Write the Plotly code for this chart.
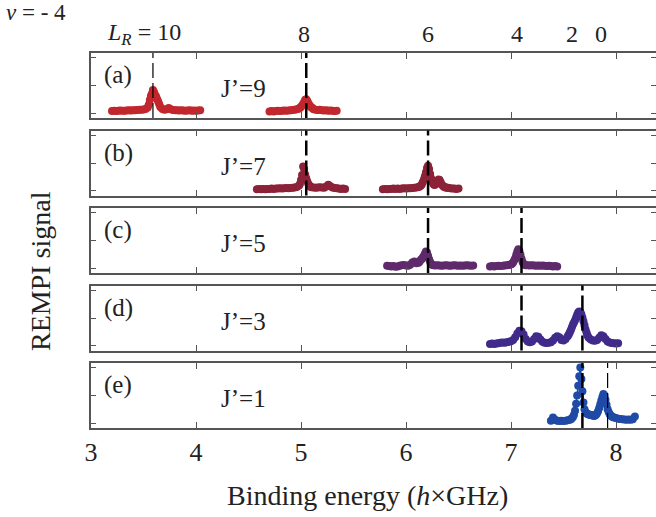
import plotly.graph_objects as go
from plotly.subplots import make_subplots

# ---------------- data ----------------
panel_labels = ["(a)", "(b)", "(c)", "(d)", "(e)"]
j_labels = ["J’=9", "J’=7", "J’=5", "J’=3", "J’=1"]
colors = ["#c1272d", "#8c2238", "#5f2a6b", "#402a8a", "#1f4aa5"]

# panel (a)
a1_x = [3.20, 3.22, 3.24, 3.26, 3.28, 3.30, 3.32, 3.34, 3.36, 3.38, 3.40, 3.42, 3.44, 3.46, 3.48, 3.50, 3.52, 3.54,
        3.55, 3.56, 3.57, 3.58, 3.59, 3.60, 3.61, 3.62, 3.63, 3.64, 3.65, 3.66,
        3.68, 3.70, 3.72, 3.74, 3.76, 3.78, 3.80, 3.82, 3.84, 3.86, 3.88, 3.90, 3.92, 3.94, 3.96, 3.98, 4.00, 4.02, 4.04]
a1_y = [0.07, 0.08, 0.07, 0.08, 0.09, 0.08, 0.08, 0.09, 0.10, 0.09, 0.10, 0.10, 0.11, 0.12, 0.12, 0.13, 0.15, 0.20,
        0.30, 0.47, 0.62, 0.70, 0.84, 0.76, 0.66, 0.60, 0.50, 0.42, 0.32, 0.22,
        0.15, 0.12, 0.14, 0.18, 0.14, 0.11, 0.10, 0.10, 0.09, 0.10, 0.09, 0.08, 0.09, 0.10, 0.08, 0.09, 0.08, 0.09, 0.10]
a2_x = [4.70, 4.72, 4.74, 4.76, 4.78, 4.80, 4.82, 4.84, 4.86, 4.88, 4.90, 4.92, 4.94, 4.96,
        4.98, 4.99, 5.00, 5.01, 5.02, 5.03, 5.04, 5.05, 5.06, 5.07, 5.08, 5.09, 5.10, 5.11, 5.12,
        5.14, 5.16, 5.18, 5.20, 5.22, 5.24, 5.26, 5.28, 5.30, 5.32, 5.34]
a2_y = [0.06, 0.07, 0.06, 0.07, 0.08, 0.07, 0.08, 0.09, 0.08, 0.09, 0.10, 0.11, 0.12, 0.14,
        0.16, 0.19, 0.22, 0.27, 0.33, 0.40, 0.48, 0.50, 0.44, 0.36, 0.29, 0.24, 0.20, 0.17, 0.14,
        0.12, 0.11, 0.12, 0.10, 0.09, 0.10, 0.08, 0.09, 0.08, 0.07, 0.08]

# panel (b)
b1_x = [4.58, 4.60, 4.62, 4.64, 4.66, 4.68, 4.70, 4.72, 4.74, 4.76, 4.78, 4.80, 4.82, 4.84, 4.86, 4.88, 4.90, 4.92, 4.94, 4.96,
        4.98, 4.99, 5.00, 5.01, 5.02, 5.03, 5.04, 5.05, 5.06, 5.07, 5.08, 5.09, 5.10,
        5.12, 5.14, 5.16, 5.18, 5.20, 5.22, 5.24, 5.26, 5.28, 5.30, 5.32, 5.34, 5.36, 5.38, 5.40, 5.42]
b1_y = [0.05, 0.06, 0.05, 0.06, 0.05, 0.06, 0.06, 0.07, 0.06, 0.07, 0.07, 0.08, 0.07, 0.08, 0.09, 0.08, 0.09, 0.10, 0.11, 0.13,
        0.17, 0.24, 0.38, 0.56, 0.87, 0.78, 0.58, 0.45, 0.33, 0.24, 0.18, 0.14, 0.12,
        0.11, 0.10, 0.11, 0.12, 0.11, 0.10, 0.15, 0.21, 0.16, 0.11, 0.09, 0.08, 0.07, 0.06, 0.07, 0.06]
b2_x = [5.78, 5.80, 5.82, 5.84, 5.86, 5.88, 5.90, 5.92, 5.94, 5.96, 5.98, 6.00, 6.02, 6.04, 6.06, 6.08, 6.10,
        6.12, 6.13, 6.14, 6.15, 6.16, 6.17, 6.18, 6.19, 6.20, 6.21, 6.22, 6.23, 6.24, 6.25, 6.26, 6.27, 6.28,
        6.29, 6.30, 6.31, 6.32, 6.33, 6.34, 6.35, 6.36, 6.37, 6.38, 6.39, 6.40,
        6.42, 6.44, 6.46, 6.48, 6.50]
b2_y = [0.05, 0.06, 0.05, 0.06, 0.06, 0.07, 0.06, 0.07, 0.06, 0.07, 0.08, 0.07, 0.08, 0.08, 0.09, 0.10, 0.11,
        0.13, 0.15, 0.17, 0.22, 0.30, 0.40, 0.52, 0.66, 0.82, 0.90, 0.78, 0.60, 0.44, 0.32, 0.24, 0.20, 0.22,
        0.28, 0.35, 0.40, 0.38, 0.30, 0.22, 0.17, 0.14, 0.12, 0.11, 0.10, 0.10,
        0.08, 0.07, 0.07, 0.06, 0.07]

# panel (c)
c1_x = [5.82, 5.84, 5.86, 5.88, 5.90, 5.92, 5.94, 5.96, 5.98, 6.00, 6.02, 6.04, 6.06, 6.08, 6.10, 6.12,
        6.13, 6.14, 6.15, 6.16, 6.17, 6.18, 6.19, 6.20, 6.21, 6.22, 6.23, 6.24, 6.25, 6.26,
        6.28, 6.30, 6.32, 6.34, 6.36, 6.38, 6.40, 6.42, 6.44, 6.46, 6.48, 6.50, 6.52, 6.54, 6.56, 6.58, 6.60, 6.62, 6.64]
c1_y = [0.08, 0.07, 0.06, 0.07, 0.05, 0.06, 0.08, 0.10, 0.11, 0.09, 0.08, 0.12, 0.20, 0.24, 0.17, 0.19,
        0.24, 0.29, 0.33, 0.38, 0.44, 0.52, 0.60, 0.56, 0.45, 0.32, 0.22, 0.15, 0.12, 0.10,
        0.09, 0.10, 0.09, 0.08, 0.09, 0.10, 0.09, 0.08, 0.09, 0.10, 0.09, 0.08, 0.09, 0.08, 0.09, 0.10, 0.09, 0.08, 0.09]
c2_x = [6.80, 6.82, 6.84, 6.86, 6.88, 6.90, 6.92, 6.94, 6.96, 6.98,
        6.99, 7.00, 7.01, 7.02, 7.03, 7.04, 7.05, 7.06, 7.07, 7.08, 7.09, 7.10, 7.11, 7.12, 7.13, 7.14,
        7.16, 7.18, 7.20, 7.22, 7.24, 7.26, 7.28, 7.30, 7.32, 7.34, 7.36, 7.38, 7.40, 7.42, 7.44]
c2_y = [0.06, 0.07, 0.06, 0.07, 0.08, 0.07, 0.08, 0.09, 0.10, 0.11,
        0.12, 0.14, 0.16, 0.20, 0.27, 0.36, 0.48, 0.60, 0.68, 0.62, 0.48, 0.34, 0.22, 0.15, 0.12, 0.10,
        0.10, 0.09, 0.10, 0.09, 0.08, 0.09, 0.08, 0.09, 0.08, 0.07, 0.08, 0.07, 0.06, 0.07, 0.06]

# panel (d)
d1_x = [6.80, 6.82, 6.84, 6.86, 6.88, 6.90, 6.92, 6.94, 6.96, 6.98, 7.00, 7.02, 7.04, 7.06, 7.08, 7.10, 7.12, 7.14, 7.16,
        7.18, 7.20, 7.22, 7.24, 7.26, 7.28, 7.30, 7.32, 7.34, 7.36, 7.38, 7.40, 7.42, 7.44, 7.46, 7.48, 7.50, 7.52, 7.54,
        7.55, 7.56, 7.57, 7.58, 7.59, 7.60, 7.61, 7.62, 7.63, 7.64, 7.65, 7.66, 7.67, 7.68, 7.69, 7.70, 7.71, 7.72,
        7.73, 7.74,
        7.76, 7.78, 7.80, 7.82, 7.84, 7.86, 7.88, 7.90, 7.92, 7.94, 7.96, 7.98, 8.00, 8.02]
d1_y = [0.06, 0.07, 0.06, 0.07, 0.08, 0.10, 0.11, 0.10, 0.12, 0.14, 0.16, 0.20, 0.30, 0.44, 0.54, 0.52, 0.40, 0.24, 0.15,
        0.12, 0.15, 0.24, 0.34, 0.32, 0.22, 0.14, 0.10, 0.09, 0.10, 0.12, 0.18, 0.28, 0.34, 0.30, 0.20, 0.18, 0.24, 0.34,
        0.40, 0.48, 0.56, 0.66, 0.76, 0.84, 0.92, 1.02, 1.12, 1.20, 1.24, 1.22, 1.14, 1.02, 0.88, 0.74, 0.58, 0.46,
        0.36, 0.28,
        0.22, 0.18, 0.17, 0.20, 0.28, 0.37, 0.34, 0.24, 0.15, 0.11, 0.09, 0.08, 0.07, 0.08]

# panel (e)
e1_x = [7.38, 7.40, 7.42, 7.44, 7.46, 7.48, 7.50, 7.52, 7.54, 7.56,
        7.57, 7.58, 7.59, 7.60, 7.61, 7.62, 7.63, 7.64, 7.65, 7.66, 7.67, 7.68, 7.69, 7.70, 7.71, 7.72, 7.73, 7.74,
        7.75, 7.76, 7.77, 7.78, 7.79, 7.80, 7.81, 7.82, 7.83, 7.84, 7.85, 7.86, 7.87, 7.88, 7.89, 7.90, 7.91, 7.92,
        7.93, 7.94, 7.95, 7.96, 7.97, 7.98,
        8.00, 8.02, 8.04, 8.06, 8.08, 8.10, 8.12, 8.14, 8.16, 8.18]
e1_y = [0.08, 0.20, 0.12, 0.08, 0.07, 0.08, 0.07, 0.08, 0.10, 0.12,
        0.14, 0.17, 0.22, 0.30, 0.45, 0.70, 1.00, 1.35, 1.70, 2.02, 1.60, 1.15, 0.75, 0.50, 0.40, 0.35, 0.33, 0.31,
        0.30, 0.29, 0.28, 0.27, 0.26, 0.27, 0.30, 0.36, 0.44, 0.55, 0.68, 0.82, 0.95, 1.05, 1.00, 0.85, 0.66, 0.50,
        0.40, 0.32, 0.27, 0.24, 0.22, 0.20,
        0.18, 0.16, 0.15, 0.14, 0.13, 0.12, 0.13, 0.12, 0.14, 0.24]

series = [
    [(a1_x, a1_y), (a2_x, a2_y)],
    [(b1_x, b1_y), (b2_x, b2_y)],
    [(c1_x, c1_y), (c2_x, c2_y)],
    [(d1_x, d1_y)],
    [(e1_x, e1_y)],
]

# dashed resonance markers per panel: (position, width)
dash_pos = [[3.59, 5.05], [5.05, 6.21], [6.21, 7.10], [7.10, 7.68], [7.68, 7.92]]
dash_wid = [[1.2, 2.5], [2.5, 2.5], [2.5, 2.5], [2.5, 2.5], [2.5, 1.2]]

top_vals = ["8", "6", "4", "2", "0"]
top_pos = [5.03, 6.21, 7.06, 7.58, 7.86]

x_ticks = [3, 4, 5, 6, 7, 8]
y_ticks = [0, 1, 2]

# ---------------- figure ----------------
W, H = 656, 517
ML, MR, MT, MB = 91, 0, 53, 89
PW, PH = W - ML - MR, H - MT - MB
PX_PER_UNIT = 105.0
x_range = [3, 3 + PW / PX_PER_UNIT]

fig = make_subplots(rows=5, cols=1, shared_xaxes=True, vertical_spacing=12.5 / PH)

FONT = "Liberation Serif, Times New Roman, serif"
AX = "#555555"

for i, group in enumerate(series):
    r = i + 1
    for xs, ys in group:
        assert len(xs) == len(ys)
        fig.add_trace(go.Scatter(x=xs, y=ys, mode="lines+markers",
                                 line=dict(color=colors[i], width=1.5),
                                 marker=dict(color=colors[i], size=8),
                                 showlegend=False, hoverinfo="skip"), row=r, col=1)
    yname = "y" if r == 1 else f"y{r}"
    for p, w in zip(dash_pos[i], dash_wid[i]):
        fig.add_shape(type="line", xref="x", yref=f"{yname} domain", x0=p, x1=p, y0=0, y1=1,
                      line=dict(color="black", width=w, dash="15px,5px"), layer="above")
    fig.add_annotation(x=3.26, y=1.38, xref="x", yref=yname, text=panel_labels[i], showarrow=False,
                       font=dict(family=FONT, size=25, color="#222"), xanchor="center", yanchor="middle")
    fig.add_annotation(x=4.45, y=0.88, xref="x", yref=yname, text=j_labels[i], showarrow=False,
                       font=dict(family=FONT, size=25, color="#222"), xanchor="center", yanchor="middle")

fig.update_xaxes(range=x_range, tickvals=x_ticks, ticks="inside", ticklen=6, tickcolor=AX, tickwidth=1.2,
                 showline=True, linecolor=AX, linewidth=1.5, mirror="ticks", showgrid=False, zeroline=False,
                 automargin=False, tickfont=dict(family=FONT, size=26, color="#222"))
fig.update_yaxes(range=[-0.18, 2.18], tickvals=y_ticks, showticklabels=False, ticks="inside", ticklen=5,
                 tickcolor=AX, tickwidth=1.2, showline=True, linecolor=AX, linewidth=1.5, mirror="ticks",
                 showgrid=False, zeroline=False, automargin=False)

for t, p in zip(top_vals, top_pos):
    fig.add_annotation(x=p, y=1.05, xref="x", yref="paper", text=t, showarrow=False,
                       font=dict(family=FONT, size=24, color="#222"), xanchor="center", yanchor="middle")
fig.add_annotation(x=(105 - ML) / PW, y=1.05, xref="paper", yref="paper",
                   text="<i>L</i><sub><i>R</i></sub> = 10", showarrow=False,
                   font=dict(family=FONT, size=24, color="#222"), xanchor="left", yanchor="middle")
fig.add_annotation(x=(4 - ML) / PW, y=(MT + PH - 12) / PH, xref="paper", yref="paper",
                   text="<i>v</i> = - 4", showarrow=False,
                   font=dict(family=FONT, size=23, color="#222"), xanchor="left", yanchor="middle")
fig.add_annotation(x=(40 - ML) / PW, y=(MT + PH - 271) / PH, xref="paper", yref="paper",
                   text="REMPI signal", textangle=-90, showarrow=False,
                   font=dict(family=FONT, size=28, color="#222"), xanchor="center", yanchor="middle")
fig.add_annotation(x=(367 - ML) / PW, y=(MT + PH - 495) / PH, xref="paper", yref="paper",
                   text="Binding energy (<i>h</i>×GHz)", showarrow=False,
                   font=dict(family=FONT, size=28, color="#222"), xanchor="center", yanchor="middle")

fig.update_layout(width=W, height=H, margin=dict(l=ML, r=MR, t=MT, b=MB, pad=0),
                  paper_bgcolor="white", plot_bgcolor="white", showlegend=False)

fig.write_html("out.html", config={"displayModeBar": False},
               post_script="document.body.style.margin='0';document.body.style.padding='0';"
                           "document.body.style.overflow='hidden';")
